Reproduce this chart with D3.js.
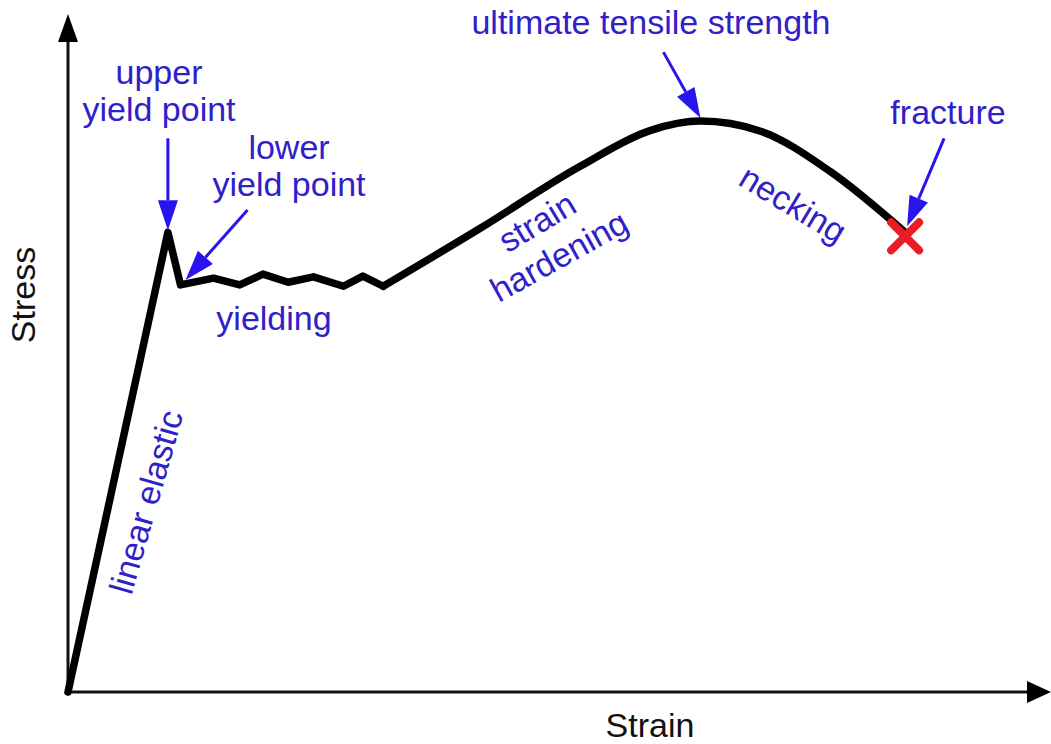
<!doctype html>
<html>
<head>
<meta charset="UTF-8">
<title>Stress-strain curve</title>
<script src="https://cdn.jsdelivr.net/npm/d3@7"></script>
<style>
  body { margin: 0; background: #fff; }
  svg text { font-family: "Liberation Sans", Arial, Helvetica, sans-serif; }
</style>
</head>
<body>
<svg id="chart" width="1051" height="744"></svg>
<script>
// strain (%) / stress (% of axis)
var elasticStrain = [0, 10.3, 11.6, 15.0, 17.7, 20.1, 22.7, 25.3, 28.4, 30.4, 32.5];
var elasticStress = [0, 68.2, 60.4, 61.4, 60.4, 62.0, 60.8, 61.6, 60.2, 61.7, 60.2];
var hardenStrain = [32.5, 42.5, 52.8, 60.0, 65.2, 71.4, 78.6, 86.3];
var hardenStress = [60.2, 68.8, 78.0, 83.3, 84.7, 83.2, 77.2, 68.2];

var axisTitles = ["Strain", "Stress"];
var labelLines = [["upper", "yield point"], ["lower", "yield point"], ["ultimate tensile strength"], ["fracture"]];
var regionLabels = ["yielding", "linear elastic", "strain", "hardening", "necking"];

var W = 1051, H = 744;
var svg = d3.select("#chart");
var textBlue = "#3020c8", arrowBlue = "#2a14ee";
var fs = 34;

var x = d3.scaleLinear().domain([0, 100]).range([68, 1038]);
var y = d3.scaleLinear().domain([0, 100]).range([692, 18]);

var elastic = elasticStrain.map(function (d, i) { return [d, elasticStress[i]]; });
var harden = hardenStrain.map(function (d, i) { return [d, hardenStress[i]]; });
var upperYield = elastic[1], lowerYield = elastic[2];
var uts = harden[4], fracture = harden[harden.length - 1];

// axes
var ax = svg.append("g");
ax.append("line").attr("x1", x(0)).attr("y1", y(0)).attr("x2", W - 20).attr("y2", y(0))
  .attr("stroke", "#111").attr("stroke-width", 3);
ax.append("line").attr("x1", x(0)).attr("y1", y(0)).attr("x2", x(0)).attr("y2", 38)
  .attr("stroke", "#111").attr("stroke-width", 3);
ax.append("path").attr("d", "M" + W + "," + y(0) + "L" + (W - 24) + "," + (y(0) - 11) + "L" + (W - 24) + "," + (y(0) + 11) + "Z")
  .attr("fill", "#000");
ax.append("path").attr("d", "M" + x(0) + ",14L" + (x(0) - 10) + ",42L" + (x(0) + 10) + ",42Z")
  .attr("fill", "#000");

ax.append("text").attr("x", 650).attr("y", 737).attr("text-anchor", "middle")
  .attr("font-size", fs).attr("fill", "#111").text(axisTitles[0]);
ax.append("text").attr("transform", "translate(35,295) rotate(-90)").attr("text-anchor", "middle")
  .attr("font-size", fs).attr("fill", "#111").text(axisTitles[1]);

// curve
var lin = d3.line().x(function (d) { return x(d[0]); }).y(function (d) { return y(d[1]); });
var smooth = d3.line().x(function (d) { return x(d[0]); }).y(function (d) { return y(d[1]); })
  .curve(d3.curveMonotoneX);

svg.append("path").attr("d", lin(elastic)).attr("fill", "none").attr("stroke", "#000")
  .attr("stroke-width", 7.5).attr("stroke-linejoin", "round").attr("stroke-linecap", "round");
svg.append("path").attr("d", smooth(harden)).attr("fill", "none").attr("stroke", "#000")
  .attr("stroke-width", 7.5).attr("stroke-linejoin", "round").attr("stroke-linecap", "round");

// fracture cross
var fx = x(fracture[0]), fy = y(fracture[1]) + 4, s = 14;
svg.append("path").attr("d", "M" + (fx - s) + "," + (fy - s) + "L" + (fx + s) + "," + (fy + s) +
    "M" + (fx + s) + "," + (fy - s) + "L" + (fx - s) + "," + (fy + s))
  .attr("stroke", "#ec1c24").attr("stroke-width", 8).attr("stroke-linecap", "round");

// arrows: tip near a curve point, tail offset in px
function arrow(pt, tipDx, tipDy, tailDx, tailDy) {
  var tx = x(pt[0]) + tipDx, ty = y(pt[1]) + tipDy;
  var sx = tx + tailDx, sy = ty + tailDy;
  var len = Math.sqrt(tailDx * tailDx + tailDy * tailDy);
  var ux = -tailDx / len, uy = -tailDy / len;
  var hl = 30, hw = 10;
  var bx = tx - ux * hl, by = ty - uy * hl;
  svg.append("line").attr("x1", sx).attr("y1", sy).attr("x2", bx).attr("y2", by)
    .attr("stroke", arrowBlue).attr("stroke-width", 3);
  svg.append("path").attr("d", "M" + tx + "," + ty + "L" + (bx - uy * hw) + "," + (by + ux * hw) +
      "L" + (bx + uy * hw) + "," + (by - ux * hw) + "Z").attr("fill", arrowBlue);
}
arrow(upperYield, 0, -2, 0, -92);
arrow(lowerYield, 5, -5, 62, -70);
arrow(uts, 0, -3, -37, -66);
arrow(fracture, 2, -6, 37, -88);

// labels
function lines(arr, cx, by, gap) {
  arr.forEach(function (t, i) {
    svg.append("text").attr("x", cx).attr("y", by + i * gap).attr("text-anchor", "middle")
      .attr("font-size", fs).attr("fill", textBlue).text(t);
  });
}
lines(labelLines[0], 159, 84, 37);
lines(labelLines[1], 289, 159, 37);
lines(labelLines[2], 651, 34, 0);
lines(labelLines[3], 948, 124, 0);

function rotated(t, cx, cy, ang) {
  svg.append("text").attr("transform", "translate(" + cx + "," + cy + ") rotate(" + ang + ")")
    .attr("text-anchor", "middle").attr("dy", "0.35em")
    .attr("font-size", fs).attr("fill", textBlue).text(t);
}
rotated(regionLabels[0], 274, 318, 0);
rotated(regionLabels[1], 146, 502, -74);
rotated(regionLabels[2], 537, 222, -31);
rotated(regionLabels[3], 559, 256, -29);
rotated(regionLabels[4], 793, 204, 31);
</script>
</body>
</html>
